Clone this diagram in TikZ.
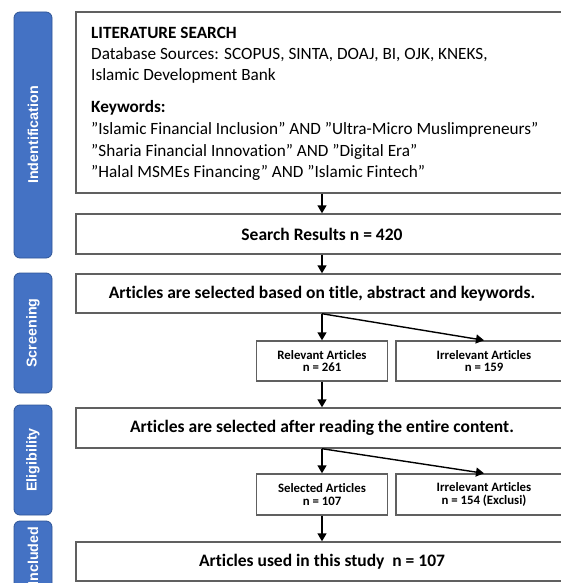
\documentclass[tikz,border=0pt]{standalone}
\usepackage{fontspec}
\setmainfont{Carlito}[Ligatures={TeX,NoCommon}]
\newfontfamily\barfont{Liberation Sans}
\usetikzlibrary{arrows.meta}
\definecolor{barblue}{HTML}{4472C4}
\definecolor{barline}{HTML}{2F5597}
\definecolor{boxline}{HTML}{606060}
\tikzset{
  stagebar/.style={draw=barline, line width=0.8pt, fill=barblue, rounded corners=6pt},
  stagetext/.style={rotate=90, text=white, font=\barfont\bfseries\fontsize{14.3}{16}\selectfont},
  flowbox/.style={draw=boxline, line width=1.4pt, fill=white, inner sep=0pt, align=center},
  bigtext/.style={font=\bfseries\fontsize{17.5}{20}\selectfont},
  smalltext/.style={font=\bfseries\fontsize{12.8}{12.5}\selectfont},
  littext/.style={anchor=base west, inner sep=0pt, font=\fontsize{17.2}{20}\selectfont},
  flow/.style={line width=1.4pt, -{Triangle[width=9pt,length=8pt]}}
}
\begin{document}
\begin{tikzpicture}[x=1pt,y=-1pt]
\useasboundingbox (0,0) rectangle (561,583);
\clip (0,0) rectangle (561,583);
\fill[white] (0,0) rectangle (561,583);
% stage bars
\node[stagebar, minimum width=38pt, minimum height=246pt] (idbar) at (33,135) {};
\node[stagetext] at (idbar.center) {Indentification};
\node[stagebar, minimum width=38pt, minimum height=120pt] (scbar) at (33,333) {};
\node[stagetext] at (scbar.center) {Screening};
\node[stagebar, minimum width=38pt, minimum height=110pt] (elbar) at (33,460) {};
\node[stagetext] at (elbar.center) {Eligibility};
\node[stagebar, minimum width=38pt, minimum height=70pt] (inbar) at (33,556) {};
\node[stagetext] at (inbar.center) {Included};
% boxes
\node[flowbox, minimum width=492pt, minimum height=181pt] (lit) at (322,102.5) {};
\node[littext, font=\bfseries\fontsize{17.2}{20}\selectfont] (l1) at (91,39) {LITERATURE SEARCH};
\node[littext] (l2) at (91,60) {Database Sources: SCOPUS, SINTA, DOAJ, BI, OJK, KNEKS,};
\node[littext] (l3) at (91,81) {Islamic Development Bank};
\node[littext, font=\bfseries\fontsize{17.2}{20}\selectfont] (l4) at (91,113) {Keywords:};
\node[littext] (l5) at (91,135) {”Islamic Financial Inclusion” AND ”Ultra-Micro Muslimpreneurs”};
\node[littext] (l6) at (91,156) {”Sharia Financial Innovation” AND ”Digital Era”};
\node[littext] (l7) at (91,177) {”Halal MSMEs Financing” AND ”Islamic Fintech”};
\node[flowbox, bigtext, minimum width=492pt, minimum height=40pt] (search) at (322,234) {Search Results n = 420};
\node[flowbox, bigtext, minimum width=492pt, minimum height=39pt] (screen) at (322,293.5) {Articles are selected based on title, abstract and keywords.};
\node[flowbox, smalltext, minimum width=131pt, minimum height=40pt] (rel) at (322,361) {Relevant Articles\\n = 261};
\node[flowbox, smalltext, minimum width=176pt, minimum height=40pt] (irr1) at (484,361) {Irrelevant Articles\\n = 159};
\node[flowbox, bigtext, minimum width=492pt, minimum height=40pt] (elig) at (322,428) {Articles are selected after reading the entire content.};
\node[flowbox, smalltext, minimum width=131pt, minimum height=41pt] (sel) at (322,494.5) {Selected Articles\\n = 107};
\node[flowbox, smalltext, minimum width=176pt, minimum height=41pt] (irr2) at (484,494.5) {Irrelevant Articles\\n = 154 (Exclusi)};
\node[flowbox, bigtext, minimum width=492pt, minimum height=39pt] (incl) at (322,561.5) {Articles used in this study\ \ n = 107};
% arrows
\draw[flow] (lit.south) -- (search.north);
\draw[flow] (search.south) -- (screen.north);
\draw[flow] (screen.south) -- (rel.north);
\draw[flow] (screen.south) -- (irr1.north);
\draw[flow] (rel.south) -- (elig.north);
\draw[flow] (elig.south) -- (sel.north);
\draw[flow] (elig.south) -- (irr2.north);
\draw[flow] (sel.south) -- (incl.north);
\end{tikzpicture}
\end{document}
